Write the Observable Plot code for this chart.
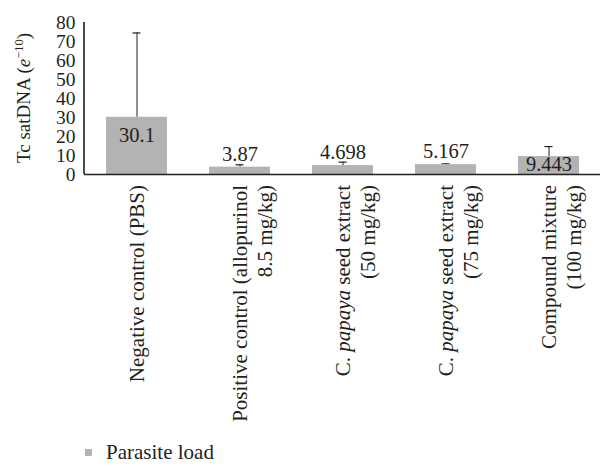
<!DOCTYPE html>
<html>
<head>
<meta charset="utf-8">
<script src="https://cdn.jsdelivr.net/npm/d3@7"></script>
<script src="https://cdn.jsdelivr.net/npm/@observablehq/plot@0.6"></script>
<style>
  html, body { margin: 0; padding: 0; background: #fff; }
  #wrap { position: relative; width: 602px; height: 466px; font-family: "Liberation Serif", serif; color: #231f20; }
  #legend { position: absolute; left: 85px; top: 442px; font-size: 21px; line-height: 21px; white-space: nowrap; }
  #legend .sw { display: inline-block; width: 7px; height: 7px; background: #b3b3b3; margin-right: 14px; vertical-align: 3px; }
  svg text { font-family: "Liberation Serif", serif; }
</style>
</head>
<body>
<div id="wrap"><div id="chart"></div><div id="legend"><span class="sw"></span>Parasite load</div></div>
<script>
const categories = ["Negative control (PBS)", "Positive control (allopurinol 8.5 mg/kg)", "C. papaya seed extract (50 mg/kg)", "C. papaya seed extract (75 mg/kg)", "Compound mixture (100 mg/kg)"];
const categoryLines = [
  ["Negative control (PBS)"],
  ["Positive control (allopurinol", "8.5 mg/kg)"],
  ["C. *papaya* seed extract", "(50 mg/kg)"],
  ["C. *papaya* seed extract", "(75 mg/kg)"],
  ["Compound mixture", "(100 mg/kg)"]
];
const values = [30.1, 3.87, 4.698, 5.167, 9.443];
const errorTops = [74.5, 5.1, 6.5, 5.6, 14.7];
const valueLabels = ["30.1", "3.87", "4.698", "5.167", "9.443"];
const yTicks = [0, 10, 20, 30, 40, 50, 60, 70, 80];
const seriesName = "Parasite load";

const FONT = '"Liberation Serif", serif';
const data = categories.map((c, i) => ({cat: c, value: values[i], err: errorTops[i], label: valueLabels[i], i}));
const ink = "#231f20";

const plot = Plot.plot({
  width: 602,
  height: 440,
  marginLeft: 84,
  marginRight: 2,
  marginTop: 22,
  marginBottom: 266,
  style: {fontFamily: FONT, fontSize: "19.5px", color: ink, background: "transparent"},
  x: {domain: categories, paddingInner: 0.41, paddingOuter: 0.205, axis: null},
  y: {domain: [0, 80], ticks: yTicks, tickSize: 0, tickPadding: 9, label: null},
  marks: [
    Plot.ruleX(data, {x: "cat", y1: "value", y2: "err", stroke: ink, strokeWidth: 1}),
    Plot.tickY(data, {x: "cat", y: "err", stroke: ink, strokeWidth: 1.2, insetLeft: 26.5, insetRight: 26.5}),
    Plot.barY(data, {x: "cat", y: "value", fill: "#b3b3b3"}),
    Plot.text(data.filter(d => d.i === 0), {x: "cat", y: "value", text: "label", dy: 18, fill: ink, fontSize: 20.5}),
    Plot.text(data.filter(d => d.i === 4), {x: "cat", y: "value", text: "label", dy: 8, fill: ink, fontSize: 20.5}),
    Plot.text(data.filter(d => d.i > 0 && d.i < 4), {x: "cat", y: "value", text: "label", dy: -13, fill: ink, fontSize: 20.5}),
    Plot.ruleY([0], {stroke: ink, strokeWidth: 1.6})
  ]
});

document.getElementById("chart").appendChild(plot);

const svg = d3.select(plot);
const xs = plot.scale("x");
const ys = plot.scale("y");
const bw = xs.bandwidth;
const y0 = ys.apply(0), yTop = ys.apply(80);
const left = 84;

// Y axis line
svg.append("line").attr("x1", left).attr("x2", left).attr("y1", yTop).attr("y2", y0)
  .attr("stroke", ink).attr("stroke-width", 1.6);

// Y axis title
const yt = svg.append("text")
  .attr("transform", `translate(30,${(y0 + yTop) / 2}) rotate(-90)`)
  .attr("text-anchor", "middle")
  .attr("font-size", 19).attr("fill", ink)
  .style("font-family", FONT);
yt.append("tspan").text("Tc satDNA (");
yt.append("tspan").attr("font-style", "italic").text("e");
yt.append("tspan").attr("font-size", 12.5).attr("baseline-shift", "super").text("\u221210");
yt.append("tspan").text(")");

// Category labels (rotated, multi-line)
const lineH = 25;
categories.forEach((c, i) => {
  const cx = xs.apply(c) + bw / 2;
  const g = svg.append("g").attr("transform", `translate(${cx},${y0 + 11}) rotate(-90)`);
  categoryLines[i].forEach((ln, j) => {
    const t = g.append("text")
      .attr("x", 0).attr("y", j * lineH)
      .attr("dy", "0.35em")
      .attr("text-anchor", "end")
      .attr("font-size", 21).attr("fill", ink)
      .style("font-family", FONT);
    ln.split(/(\*[^*]+\*)/).filter(s => s.length).forEach(seg => {
      if (seg.startsWith("*")) t.append("tspan").attr("font-style", "italic").text(seg.slice(1, -1));
      else t.append("tspan").text(seg);
    });
  });
});
</script>
</body>
</html>
